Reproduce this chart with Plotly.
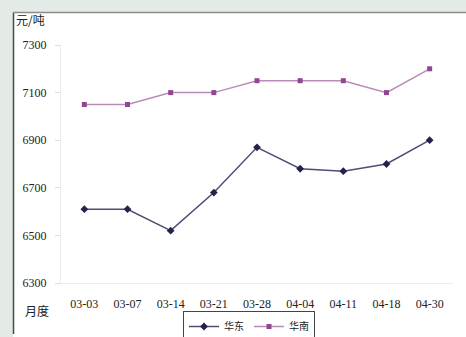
import plotly.graph_objects as go

dates = ["03-03", "03-07", "03-14", "03-21", "03-28", "04-04", "04-11", "04-18", "04-30"]
huadong = [6610, 6610, 6520, 6680, 6870, 6780, 6770, 6800, 6900]
huanan = [7050, 7050, 7100, 7100, 7150, 7150, 7150, 7100, 7200]
yticks = [6300, 6500, 6700, 6900, 7100, 7300]

W, H = 466, 337
L, R, T, B = 61, 453, 45, 283  # plot area in pixels


def px(x):
    return (x - L) / (R - L)


def py(y):
    return (B - y) / (B - T)


serif = "Liberation Serif"
cjk = "Noto Sans CJK SC"

fig = go.Figure()
fig.add_trace(go.Scatter(
    x=dates, y=huadong, name="华东", mode="lines+markers",
    line=dict(color="#4d4d75", width=1.5),
    marker=dict(symbol="diamond", size=6, color="#23234f"),
))
fig.add_trace(go.Scatter(
    x=dates, y=huanan, name="华南", mode="lines+markers",
    line=dict(color="#b98bb8", width=1.5),
    marker=dict(symbol="square", size=5, color="#91478f"),
))

green = "#e4ebe6"
shapes = [
    dict(type="rect", xref="paper", yref="paper", x0=px(0), x1=px(W),
         y0=py(12), y1=py(0), fillcolor=green, line=dict(width=0), layer="below"),
    dict(type="rect", xref="paper", yref="paper", x0=px(0), x1=px(13),
         y0=py(H), y1=py(0), fillcolor=green, line=dict(width=0), layer="below"),
    dict(type="line", xref="paper", yref="paper", x0=px(13.5), x1=px(13.5),
         y0=py(334), y1=py(12.5), line=dict(color="#4a4a4a", width=1.5)),
    dict(type="line", xref="paper", yref="paper", x0=px(13), x1=px(W),
         y0=py(12.5), y1=py(12.5), line=dict(color="#8a8a8a", width=1.5)),
]

fig.update_layout(
    width=W, height=H,
    margin=dict(l=L, r=W - R, t=T, b=H - B, autoexpand=False),
    paper_bgcolor="white",
    plot_bgcolor="white",
    font=dict(family=cjk, size=12, color="#222222"),
    showlegend=True,
    legend=dict(
        orientation="h", xref="container", yref="container",
        x=249 / W, y=1 - 311 / H, xanchor="center", yanchor="top",
        bgcolor="white", bordercolor="#444444", borderwidth=1,
        font=dict(family=cjk, size=10, color="#222"),
        itemwidth=30, tracegroupgap=0,
    ),
    shapes=shapes,
    annotations=[
        dict(text="元/吨", xref="paper", yref="paper", x=px(14), y=py(20),
             xanchor="left", yanchor="middle", showarrow=False,
             font=dict(family=cjk, size=12, color="#222")),
        dict(text="月度", xref="paper", yref="paper", x=px(23), y=py(310),
             xanchor="left", yanchor="middle", showarrow=False,
             font=dict(family=cjk, size=12, color="#222")),
    ],
)
fig.update_xaxes(
    type="category", showgrid=False, zeroline=False, automargin=False,
    showline=True, linecolor="#ececec", linewidth=1,
    ticks="", ticklabelstandoff=10,
    tickfont=dict(family=serif, size=12, color="#222"),
)
fig.update_yaxes(
    range=[6300, 7300], tickvals=yticks, showgrid=False, zeroline=False, automargin=False,
    showline=True, linecolor="#ececec", linewidth=1,
    ticks="outside", ticklen=5, tickcolor="#dddddd", ticklabelstandoff=6,
    tickfont=dict(family=serif, size=12, color="#222"),
)

fig.write_html("out.html", config={"displayModeBar": False})

with open("out.html", "r", encoding="utf-8") as f:
    html = f.read()
html = html.replace("<head>", "<head><style>html,body{margin:0;padding:0;overflow:hidden;background:white;}</style>", 1)
with open("out.html", "w", encoding="utf-8") as f:
    f.write(html)
